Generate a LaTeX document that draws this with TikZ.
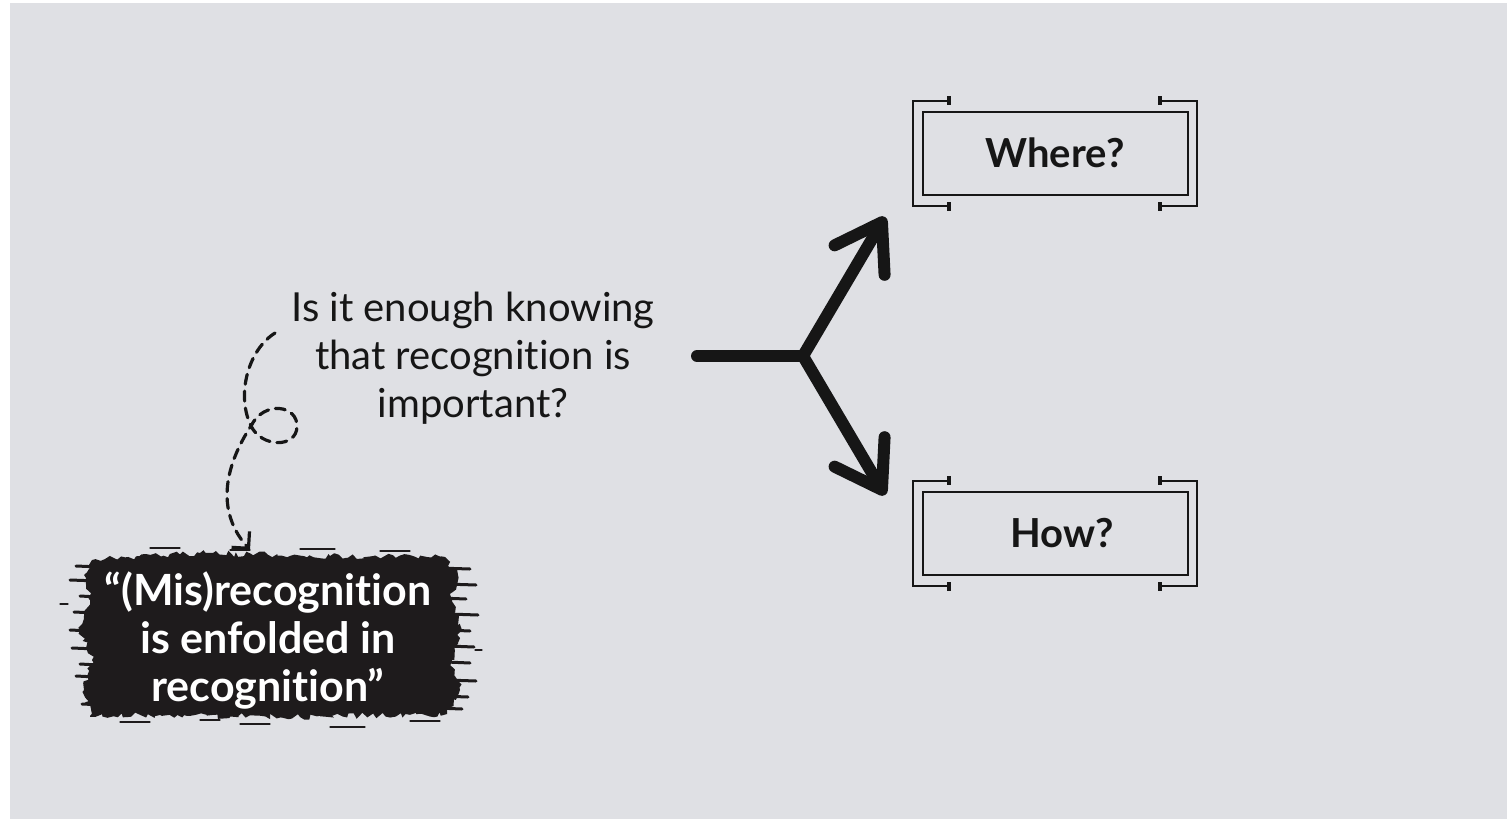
\documentclass[tikz,border=0pt]{standalone}
\usepackage{fontspec}
\setmainfont{Lato}[Ligatures=NoCommon]
\usetikzlibrary{arrows.meta,decorations.pathmorphing,calc}
\definecolor{bg}{HTML}{DFE0E4}
\definecolor{ink}{HTML}{161616}
\definecolor{brush}{HTML}{1E1B1C}
\tikzset{
 plain/.style={font=\fontsize{40}{48}\selectfont, text=ink, align=center, inner sep=0pt},
 qbox/.style={draw=ink, line width=2pt, minimum width=265pt, minimum height=83pt, inner sep=0pt, font=\bfseries\fontsize{40}{46}\selectfont, text=ink},
 brk/.style={draw=ink, line width=2pt},
 fork/.style={draw=ink, line width=12pt, line cap=round, line join=round},
 forkhead/.style={-{Straight Barb[length=44pt,width=58pt,round]}},
 dsh/.style={draw=ink, line width=3.2pt, dash pattern=on 10pt off 7pt, line cap=round},
 quote/.style={text=white, font=\bfseries\fontsize{43}{48}\selectfont, align=center, inner sep=0pt},
 streak/.style={draw=brush, line width=3pt, line cap=round},
 fleck/.style={draw=brush, line width=1.2pt, line cap=round}
}
\begin{document}
\begin{tikzpicture}[x=1pt,y=-1pt]
\useasboundingbox (0,0) rectangle (1507,819);
\fill[white] (0,0) rectangle (1507,819);
\fill[bg] (10,3) rectangle (1507,819);

% brush stroke
\pgfmathsetseed{7}
\fill[brush, decorate, decoration={random steps, segment length=4pt, amplitude=3pt}]
  (92,560) -- (200,553) -- (330,556) -- (445,557) -- (458,575) -- (450,600) -- (462,630) -- (452,660) -- (460,690) -- (447,714) -- (300,717) -- (160,715) -- (90,716) -- (84,690) -- (92,660) -- (80,630) -- (90,600) -- (84,575) -- cycle;
\foreach \ya/\xa/\xb in {566/76/100, 580/70/98, 596/80/98, 612/74/96, 630/70/92, 648/72/96, 664/80/98, 676/76/96, 692/84/100, 704/82/104,
                         568/438/470, 584/445/476, 598/440/466, 614/448/478, 630/446/470, 646/448/474, 662/446/470, 680/446/476, 696/440/468, 708/436/462}
  \draw[streak] (\xa,\ya) -- (\xb,\ya+1);
\foreach \xa/\ya/\xb in {150/548/180, 230/550/250, 300/549/335, 380/551/410, 60/604/68, 475/650/482, 120/722/150, 200/720/220, 240/724/270, 330/727/365, 410/721/440}
  \draw[fleck] (\xa,\ya) -- (\xb,\ya);
\node[quote] (q) at (268,640) {“(Mis)recognition\\is enfolded in\\recognition”};

% question text
\node[plain] (t) at (473,358) {Is it enough knowing\\that recognition is\\important?};

% boxes
\node[qbox] (where) at (1055,153) {Where?};
\node[qbox] (how) at (1055,533) {\hspace*{14pt}How?};
\foreach \n in {where,how} {
  \draw[brk] ($(\n.north west)+(27,-10)$) -- ($(\n.north west)+(-9,-10)$) -- ($(\n.south west)+(-9,10)$) -- ($(\n.south west)+(27,10)$);
  \draw[brk] ($(\n.north east)+(-29,-10)$) -- ($(\n.north east)+(8,-10)$) -- ($(\n.south east)+(8,10)$) -- ($(\n.south east)+(-29,10)$);
  \fill[ink] ($(\n.north west)+(25,-15)$) rectangle ++(4,9);
  \fill[ink] ($(\n.south west)+(25,6)$) rectangle ++(4,9);
  \fill[ink] ($(\n.north east)+(-31,-15)$) rectangle ++(4,9);
  \fill[ink] ($(\n.south east)+(-31,6)$) rectangle ++(4,9);
}

% fork arrows
\coordinate (f0) at (697,356);
\coordinate (fk) at (803,356);
\coordinate (e1) at (885,217);
\coordinate (e2) at (885,495);
\draw[fork] (f0) -- (fk);
\draw[fork, forkhead] (fk) -- (e1);
\draw[fork, forkhead] (fk) -- (e2);

% dashed loop
\coordinate (d0) at (275,333);
\coordinate (dx) at (251,426);
\coordinate (d1) at (250,550);
\draw[dsh, -{Straight Barb[length=12pt,width=24pt]}] (d0) .. controls (248,350) and (236,395) .. (dx)
  .. controls (262,448) and (296,448) .. (297,427)
  .. controls (298,405) and (264,400) .. (dx)
  .. controls (232,455) and (210,505) .. (d1);
\end{tikzpicture}
\end{document}
